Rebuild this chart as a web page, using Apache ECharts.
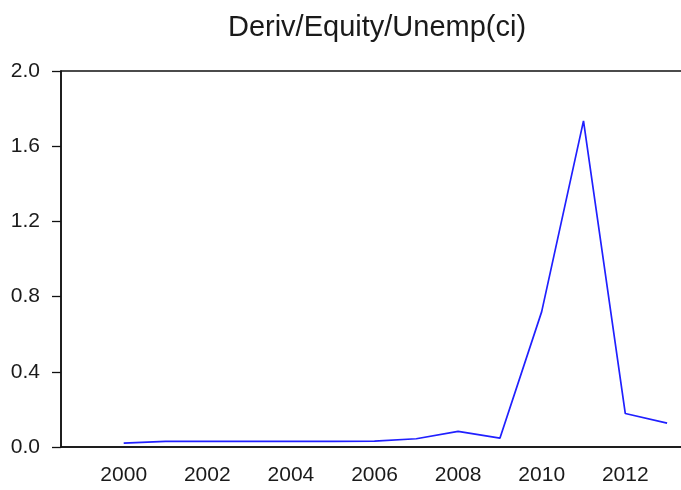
<!DOCTYPE html>
<html>
<head>
<meta charset="utf-8">
<script src="https://cdn.jsdelivr.net/npm/echarts@6/dist/echarts.min.js"></script>
<style>
    html, body { margin: 0; padding: 0; background: #fff; }
    #chart { width: 681px; height: 490px; }
</style>
</head>
<body>
<div id="chart"></div>
<script>
// annual observations, 1999 is missing in the series
const years = ['1999', '2000', '2001', '2002', '2003', '2004', '2005', '2006',
               '2007', '2008', '2009', '2010', '2011', '2012', '2013'];
const derivEquityUnemp = [null, 0.021, 0.030, 0.030, 0.030, 0.030, 0.030, 0.031,
                          0.044, 0.083, 0.047, 0.72, 1.735, 0.178, 0.127];
const yTicks = [0, 0.4, 0.8, 1.2, 1.6, 2.0];

const axisColor = '#111';
const textColor = '#1a1a1a';
const fontName = '"Liberation Sans", Arial, sans-serif';

const chart = echarts.init(document.getElementById('chart'));

chart.setOption({
    animation: false,
    title: {
        text: 'Deriv/Equity/Unemp(ci)',
        left: 372,
        top: 8,
        textAlign: 'center',
        textStyle: {
            color: textColor,
            fontFamily: fontName,
            fontSize: 29,
            fontWeight: 'normal'
        }
    },
    // the plot box runs a little past the right edge of the picture
    grid: {
        left: 61,
        right: -7,
        top: 71,
        bottom: 43,
        outerBoundsMode: 'none',
        show: true,
        borderColor: axisColor,
        borderWidth: 1.5
    },
    xAxis: {
        type: 'category',
        data: years,
        boundaryGap: true,
        axisLine: { lineStyle: { color: axisColor, width: 1.5 } },
        axisTick: {
            interval: 0,
            length: 7,
            lineStyle: { color: axisColor, width: 1.3 }
        },
        axisLabel: {
            interval: (index) => index % 2 === 1,
            margin: 18,
            color: textColor,
            fontFamily: fontName,
            fontSize: 21
        },
        splitLine: { show: false }
    },
    yAxis: {
        type: 'value',
        min: yTicks[0],
        max: yTicks[yTicks.length - 1],
        interval: 0.4,
        axisLine: { show: true, lineStyle: { color: axisColor, width: 1.5 } },
        axisTick: {
            show: true,
            length: 9,
            lineStyle: { color: axisColor, width: 1.3 }
        },
        axisLabel: {
            margin: 21,
            color: textColor,
            fontFamily: fontName,
            fontSize: 21,
            formatter: (v) => v.toFixed(1)
        },
        splitLine: { show: false }
    },
    series: [
        {
            name: 'Deriv/Equity/Unemp(ci)',
            type: 'line',
            data: derivEquityUnemp,
            showSymbol: false,
            symbol: 'none',
            connectNulls: false,
            lineStyle: { color: '#2020ff', width: 1.7 }
        }
    ]
});
</script>
</body>
</html>
